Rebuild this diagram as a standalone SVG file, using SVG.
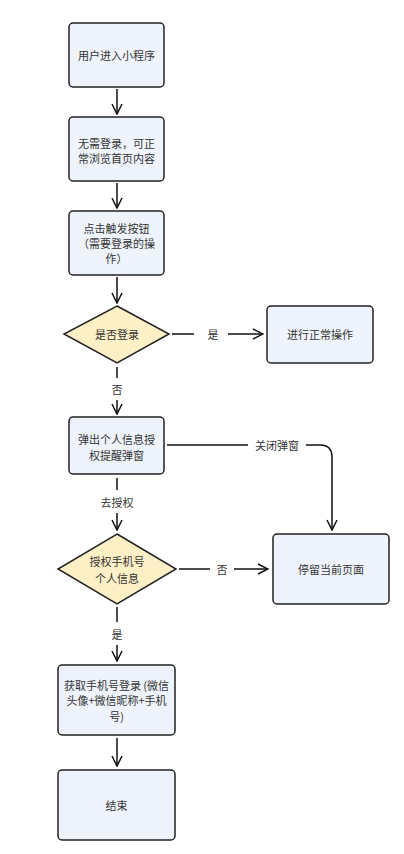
<svg xmlns="http://www.w3.org/2000/svg" width="404" height="854" viewBox="0 0 404 854">
<style>
.box{fill:#eff3fc;stroke:#222;stroke-width:1.5}
.dia{fill:#fdefc6;stroke:#222;stroke-width:1.5}
text{font-family:"Noto Sans CJK SC","Liberation Sans",sans-serif;font-size:11px;fill:#333;text-anchor:middle;dominant-baseline:central}
.ln{fill:none;stroke:#111;stroke-width:1.5}
</style>
<defs>
<marker id="ah" viewBox="0 0 12 12" refX="11" refY="6" markerWidth="12" markerHeight="12" markerUnits="userSpaceOnUse" orient="auto">
<path d="M1,1 L11,6 L1,11" fill="none" stroke="#111" stroke-width="1.5"/>
</marker>
</defs>
<rect width="404" height="854" fill="#fff"/>
<g id="connectors">
<path class="ln" d="M117,89 V114" marker-end="url(#ah)"/>
<path class="ln" d="M117,183 V208" marker-end="url(#ah)"/>
<path class="ln" d="M117,277 V303" marker-end="url(#ah)"/>
<path class="ln" d="M172,334 H194 M228,334 H263" marker-end="url(#ah)"/>
<text x="213" y="334">是</text>
<path class="ln" d="M117,367 V378 M117,400 V414" marker-end="url(#ah)"/>
<text x="117" y="389">否</text>
<path class="ln" d="M167,445 H248 M306,445 H320 Q332,445 332,457 V530" marker-end="url(#ah)"/>
<text x="277" y="445">关闭弹窗</text>
<path class="ln" d="M117,478 V490 M117,513 V530" marker-end="url(#ah)"/>
<text x="117" y="502">去授权</text>
<path class="ln" d="M179,569 H210 M234,569 H268" marker-end="url(#ah)"/>
<text x="222" y="569">否</text>
<path class="ln" d="M117,607 V622 M117,645 V661" marker-end="url(#ah)"/>
<text x="117" y="634">是</text>
<path class="ln" d="M117,738 V766" marker-end="url(#ah)"/>
</g>
<g id="n1"><rect class="box" x="69" y="23" width="95" height="64" rx="4"/><text x="116.5" y="55">用户进入小程序</text></g>
<g id="n2"><rect class="box" x="69" y="117" width="95" height="64" rx="4"/><text x="116.5" y="143">无需登录，可正</text><text x="116.5" y="158">常浏览首页内容</text></g>
<g id="n3"><rect class="box" x="69" y="211" width="95" height="64" rx="4"/><text x="116.5" y="228">点击触发按钮</text><text x="116.5" y="243">（需要登录的操</text><text x="116.5" y="258">作）</text></g>
<g id="d1"><path class="dia" d="M117,306 L169,334 L117,363 L64,334 Z"/><text x="117" y="334">是否登录</text></g>
<g id="n4"><rect class="box" x="267" y="306" width="106" height="57" rx="4"/><text x="320" y="334">进行正常操作</text></g>
<g id="n5"><rect class="box" x="69" y="417" width="95" height="57" rx="4"/><text x="116.5" y="439">弹出个人信息授</text><text x="116.5" y="455">权提醒弹窗</text></g>
<g id="d2"><path class="dia" d="M117,534 L176,569 L117,604 L58,569 Z"/><text x="117" y="561">授权手机号</text><text x="117" y="578">个人信息</text></g>
<g id="n6"><rect class="box" x="273" y="534" width="116" height="70" rx="4"/><text x="331" y="569">停留当前页面</text></g>
<g id="n7"><rect class="box" x="58" y="665" width="117" height="70" rx="4"/><text x="116.5" y="685">获取手机号登录 (微信</text><text x="116.5" y="700">头像+微信昵称+手机</text><text x="116.5" y="716">号)</text></g>
<g id="n8"><rect class="box" x="58" y="770" width="117" height="70" rx="4"/><text x="116.5" y="805">结束</text></g>
</svg>
